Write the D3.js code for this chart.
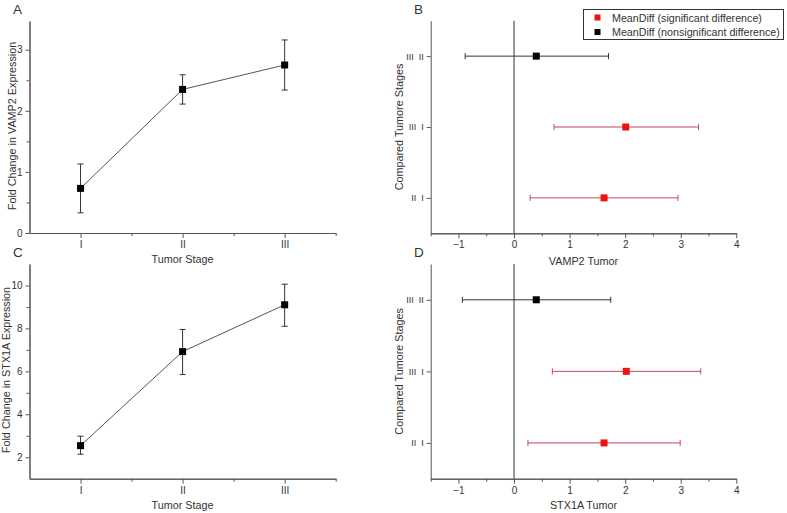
<!DOCTYPE html>
<html><head><meta charset="utf-8">
<script src="https://cdn.jsdelivr.net/npm/d3@7"></script>
<style>
html,body{margin:0;padding:0;background:#fff;}
svg{display:block;font-family:"Liberation Sans",Arial,sans-serif;}
</style></head>
<body>
<svg id="c" width="787" height="513"></svg>
<script>
// ---------- data ----------
const stages = [1, 2, 3];
const stageLabels = ["I", "II", "III"];
const vampMean = [0.73, 2.35, 2.75];
const vampLow  = [0.33, 2.11, 2.34];
const vampHigh = [1.13, 2.59, 3.16];
const stxMean = [2.54, 6.92, 9.10];
const stxLow  = [2.14, 5.85, 8.10];
const stxHigh = [2.98, 7.95, 10.06];

const comparisons = ["III  II", "III  I", "II  I"];
const compPos = [3, 2, 1];
const compSignificant = [false, true, true];
const vampDiff = [0.40, 2.01, 1.62];
const vampDiffLow = [-0.88, 0.72, 0.29];
const vampDiffHigh = [1.70, 3.32, 2.95];
const stxDiff = [0.40, 2.02, 1.62];
const stxDiffLow = [-0.93, 0.69, 0.25];
const stxDiffHigh = [1.74, 3.36, 2.99];

const legendLabels = ["MeanDiff (significant difference)", "MeanDiff (nonsignificant difference)"];

// ---------- drawing ----------
const svg = d3.select("#c");
const AX = "#555", TX = "#333";
const fmtInt = d3.format("d");

function styleAxis(g){
  g.selectAll("path.domain").attr("stroke", AX);
  g.selectAll(".tick line").attr("stroke", AX);
  g.selectAll(".tick text").attr("fill", TX).style("font-family","Liberation Sans, Arial, sans-serif");
}

function linePanel(opt){
  const x = d3.scaleLinear().domain([0.5, 3.5]).range([opt.x0, opt.x1]);
  const y = d3.scaleLinear().domain(opt.ydom).range([opt.y0, opt.y1]);
  const g = svg.append("g");
  g.append("g").attr("transform", `translate(0,${opt.y0})`)
    .call(d3.axisBottom(x).tickValues([1.5, 2.5, 3.5]).tickSize(3).tickSizeOuter(0).tickFormat(""))
    .call(styleAxis);
  g.append("g").attr("transform", `translate(0,${opt.y0})`)
    .call(d3.axisBottom(x).tickValues(stages).tickSize(5).tickSizeOuter(0).tickPadding(3)
      .tickFormat((d,i)=>stageLabels[i]))
    .call(styleAxis).selectAll("text").attr("font-size", 10);
  g.append("g").attr("transform", `translate(${opt.x0},0)`)
    .call(d3.axisLeft(y).tickValues(opt.yminor).tickSize(3).tickSizeOuter(0).tickFormat(""))
    .call(styleAxis);
  g.append("g").attr("transform", `translate(${opt.x0},0)`)
    .call(d3.axisLeft(y).tickValues(opt.yticks).tickSize(4).tickSizeOuter(0).tickPadding(3).tickFormat(fmtInt))
    .call(styleAxis).selectAll("text").attr("font-size", 10);

  const pts = stages.map((s,i)=>({s, m:opt.mean[i], lo:opt.low[i], hi:opt.high[i]}));
  g.append("path").datum(pts)
    .attr("fill","none").attr("stroke","#555").attr("stroke-width",1)
    .attr("d", d3.line().x(d=>x(d.s)).y(d=>y(d.m)));
  const eb = g.selectAll(".eb").data(pts).enter().append("g").attr("stroke","#333").attr("stroke-width",1);
  eb.append("line").attr("x1",d=>x(d.s)).attr("x2",d=>x(d.s)).attr("y1",d=>y(d.lo)).attr("y2",d=>y(d.hi));
  eb.append("line").attr("x1",d=>x(d.s)-3).attr("x2",d=>x(d.s)+3).attr("y1",d=>y(d.lo)).attr("y2",d=>y(d.lo));
  eb.append("line").attr("x1",d=>x(d.s)-3).attr("x2",d=>x(d.s)+3).attr("y1",d=>y(d.hi)).attr("y2",d=>y(d.hi));
  g.selectAll(".pt").data(pts).enter().append("rect")
    .attr("x",d=>x(d.s)-3.5).attr("y",d=>y(d.m)-3.5).attr("width",7).attr("height",7).attr("fill","#000");

  g.append("text").attr("x", x(2)).attr("y", opt.xlabY).attr("text-anchor","middle")
    .attr("font-size",10.8).attr("fill",TX).text("Tumor Stage");
  g.append("text").attr("transform",`translate(${opt.ylabX},${opt.ylabCY}) rotate(-90)`)
    .attr("text-anchor","middle").attr("font-size",10.8).attr("fill",TX).text(opt.ytitle);
  g.append("text").attr("x",opt.letterX).attr("y",opt.letterY).attr("font-size",13.5).attr("fill",TX).text(opt.letter);
}

function forestPanel(opt){
  const x = d3.scaleLinear().domain([-1.5, 4]).range([opt.x0, opt.x1]);
  const y = d3.scaleLinear().domain([0.5, 3.5]).range([opt.y0, opt.y1]);
  const g = svg.append("g");
  g.append("g").attr("transform", `translate(0,${opt.y0})`)
    .call(d3.axisBottom(x).tickValues([-1.5,-0.5,0.5,1.5,2.5,3.5]).tickSize(3).tickSizeOuter(0).tickFormat(""))
    .call(styleAxis);
  g.append("g").attr("transform", `translate(0,${opt.y0})`)
    .call(d3.axisBottom(x).tickValues([-1,0,1,2,3,4]).tickSize(5).tickSizeOuter(0).tickPadding(3).tickFormat(fmtInt))
    .call(styleAxis).selectAll("text").attr("font-size", 10);
  g.append("g").attr("transform", `translate(${opt.x0},0)`)
    .call(d3.axisLeft(y).tickValues(compPos).tickSize(4).tickSizeOuter(0).tickPadding(3)
      .tickFormat(d=>comparisons[compPos.indexOf(d)]))
    .call(styleAxis).selectAll("text").attr("font-size", 9).style("white-space","pre");
  g.append("line").attr("x1",x(0)).attr("x2",x(0)).attr("y1",opt.y0).attr("y2",opt.y1)
    .attr("stroke","#333").attr("stroke-width",1);
  const rows = compPos.map((p,i)=>({p, m:opt.mean[i], lo:opt.low[i], hi:opt.high[i], sig:compSignificant[i]}));
  const eb = g.selectAll(".eb").data(rows).enter().append("g")
    .attr("stroke",d=>d.sig ? "#c8455a" : "#333").attr("stroke-width",1);
  eb.append("line").attr("x1",d=>x(d.lo)).attr("x2",d=>x(d.hi)).attr("y1",d=>y(d.p)).attr("y2",d=>y(d.p));
  eb.append("line").attr("x1",d=>x(d.lo)).attr("x2",d=>x(d.lo)).attr("y1",d=>y(d.p)-3).attr("y2",d=>y(d.p)+3);
  eb.append("line").attr("x1",d=>x(d.hi)).attr("x2",d=>x(d.hi)).attr("y1",d=>y(d.p)-3).attr("y2",d=>y(d.p)+3);
  g.selectAll(".pt").data(rows).enter().append("rect")
    .attr("x",d=>x(d.m)-3.5).attr("y",d=>y(d.p)-3.5).attr("width",7).attr("height",7)
    .attr("fill",d=>d.sig ? "#ee1111" : "#000");
  g.append("text").attr("x", x(1.25)).attr("y", opt.xlabY).attr("text-anchor","middle")
    .attr("font-size",10.8).attr("fill",TX).text(opt.xtitle);
  g.append("text").attr("transform",`translate(${opt.ylabX},${(opt.y0+opt.y1)/2}) rotate(-90)`)
    .attr("text-anchor","middle").attr("font-size",10.8).attr("fill",TX).text("Compared Tumore Stages");
  g.append("text").attr("x",opt.letterX).attr("y",opt.letterY).attr("font-size",13.5).attr("fill",TX).text(opt.letter);
}

linePanel({x0:29.5, x1:335.7, y0:233, y1:21, ydom:[0,3.47], yticks:[0,1,2,3], yminor:[0.5,1.5,2.5],
  mean:vampMean, low:vampLow, high:vampHigh, xlabY:263, ylabX:15.5, ylabCY:126,
  ytitle:"Fold Change in VAMP2 Expression", letter:"A", letterX:13, letterY:13.5});
linePanel({x0:29.5, x1:335.7, y0:478.7, y1:264, ydom:[1,11], yticks:[2,4,6,8,10], yminor:[3,5,7,9],
  mean:stxMean, low:stxLow, high:stxHigh, xlabY:508.5, ylabX:10, ylabCY:370,
  ytitle:"Fold Change in STX1A Expression", letter:"C", letterX:13, letterY:257});
forestPanel({x0:430.7, x1:736.3, y0:233.3, y1:20.7, mean:vampDiff, low:vampDiffLow, high:vampDiffHigh,
  xtitle:"VAMP2 Tumor", xlabY:265, ylabX:403, letter:"B", letterX:414, letterY:13.5});
forestPanel({x0:430.7, x1:736.3, y0:478.7, y1:264, mean:stxDiff, low:stxDiffLow, high:stxDiffHigh,
  xtitle:"STX1A Tumor", xlabY:508.5, ylabX:403, letter:"D", letterX:414, letterY:257});

// legend
const lg = svg.append("g");
lg.append("rect").attr("x",583.5).attr("y",9.5).attr("width",200).attr("height",30)
  .attr("fill","#fff").attr("stroke","#333").attr("stroke-width",1);
const legendColors = ["#ee1111", "#000"];
legendLabels.forEach((t,i)=>{
  lg.append("rect").attr("x",594.5).attr("y",14.5+i*14.5).attr("width",6).attr("height",6).attr("fill",legendColors[i]);
  lg.append("text").attr("x",612).attr("y",21.5+i*14.5).attr("font-size",10.7).attr("fill",TX).text(t);
});
</script>
</body></html>
